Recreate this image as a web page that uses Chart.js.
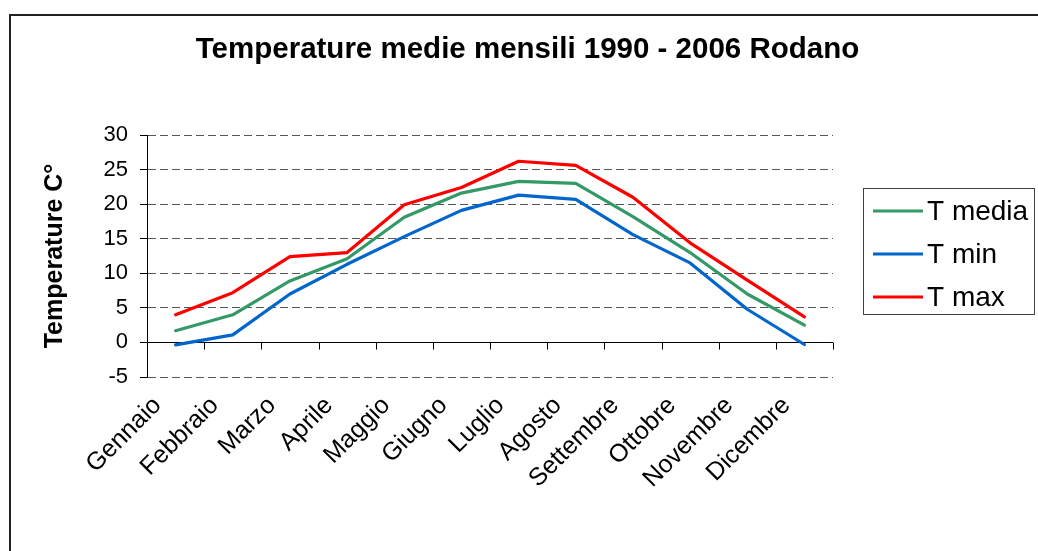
<!DOCTYPE html>
<html><head><meta charset="utf-8">
<script src="https://cdn.jsdelivr.net/npm/chart.js@4/dist/chart.umd.min.js"></script>
<style>
html,body{margin:0;padding:0;background:#fff;overflow:hidden;width:1038px;height:551px}
#frame{position:absolute;left:9px;top:14px;width:1100px;height:600px;border-left:2px solid #222;border-top:2px solid #222}
canvas{position:absolute;left:0;top:0}
</style></head><body>
<div id="frame"></div>
<canvas id="c" width="1038" height="551"></canvas>
<script>
const months = ["Gennaio","Febbraio","Marzo","Aprile","Maggio","Giugno","Luglio","Agosto","Settembre","Ottobre","Novembre","Dicembre"];
const tMedia = [1.7, 4.0, 8.9, 12.1, 18.1, 21.6, 23.3, 23.0, 18.2, 13.0, 7.0, 2.5];
const tMin   = [-0.35, 1.1, 7.0, 11.3, 15.3, 19.1, 21.3, 20.7, 15.6, 11.5, 4.8, -0.3];
const tMax   = [4.0, 7.2, 12.4, 13.0, 19.9, 22.4, 26.2, 25.6, 21.0, 14.4, 9.0, 3.7];
const yTickValues = [-5, 0, 5, 10, 15, 20, 25, 30];
const titleText = "Temperature medie mensili 1990 - 2006 Rodano";
const yTitleText = "Temperature C°";

const FONT = "'Liberation Sans', Arial, sans-serif";

const axisPlugin = {
  id: 'zeroAxis',
  beforeDatasetsDraw(chart) {
    const {ctx, scales: {x, y}, chartArea} = chart;
    const y0 = Math.round(y.getPixelForValue(0)) + 0.5;
    ctx.save();
    ctx.strokeStyle = '#000';
    ctx.lineWidth = 1;
    ctx.beginPath();
    ctx.moveTo(chartArea.left, y0);
    ctx.lineTo(chartArea.right, y0);
    const n = months.length;
    for (let i = 0; i <= n; i++) {
      let px;
      if (i === 0) px = chartArea.left;
      else if (i === n) px = chartArea.right;
      else px = (x.getPixelForValue(i - 1) + x.getPixelForValue(i)) / 2;
      px = Math.round(px) + 0.5;
      ctx.moveTo(px, y0);
      ctx.lineTo(px, y0 + 7);
    }
    ctx.stroke();
    ctx.restore();
  }
};

const legendPlugin = {
  id: 'boxLegend',
  afterDraw(chart) {
    const {ctx} = chart;
    ctx.save();
    ctx.strokeStyle = '#404040';
    ctx.lineWidth = 1;
    ctx.strokeRect(863.5, 188.5, 171, 126);
    ctx.font = '28px ' + FONT;
    ctx.textBaseline = 'middle';
    ctx.fillStyle = '#000';
    chart.data.datasets.forEach((ds, i) => {
      const cy = 211 + i * 43;
      ctx.strokeStyle = ds.borderColor;
      ctx.lineWidth = 3;
      ctx.beginPath();
      ctx.moveTo(873, cy);
      ctx.lineTo(923, cy);
      ctx.stroke();
      ctx.fillText(ds.label, 927, cy + 1);
    });
    ctx.restore();
  }
};

new Chart(document.getElementById('c'), {
  type: 'line',
  data: {
    labels: months,
    datasets: [
      {label: 'T media', data: tMedia, borderColor: '#339966', backgroundColor: '#339966'},
      {label: 'T min', data: tMin, borderColor: '#0066CC', backgroundColor: '#0066CC'},
      {label: 'T max', data: tMax, borderColor: '#FF0000', backgroundColor: '#FF0000'}
    ]
  },
  options: {
    responsive: false,
    devicePixelRatio: 1,
    animation: false,
    events: [],
    layout: {padding: {left: 17, right: 0, top: 0, bottom: 0}},
    elements: {
      line: {borderWidth: 3.2, tension: 0, borderCapStyle: 'round', borderJoinStyle: 'round'},
      point: {radius: 0}
    },
    plugins: {
      legend: {display: false},
      tooltip: {enabled: false},
      title: {
        display: true,
        text: titleText,
        color: '#000',
        font: {family: FONT, size: 29.5, weight: 'bold'},
        padding: {top: 32.3, bottom: 67.3}
      }
    },
    scales: {
      x: {
        type: 'category',
        offset: true,
        grid: {display: false, drawOnChartArea: false, drawTicks: false},
        border: {display: false},
        afterFit: s => { s.height = 174; },
        ticks: {
          autoSkip: false,
          minRotation: 45,
          maxRotation: 45,
          padding: 14,
          labelOffset: -18,
          color: '#000',
          font: {family: FONT, size: 25}
        }
      },
      y: {
        position: 'left',
        min: yTickValues[0],
        max: yTickValues[yTickValues.length - 1],
        afterBuildTicks: s => { s.ticks = yTickValues.map(v => ({value: v})); },
        afterFit: s => { s.width = 130; },
        grid: {
          color: '#555',
          lineWidth: 1,
          drawTicks: true,
          tickLength: 7,
          tickColor: '#000',
          tickBorderDash: []
        },
        border: {display: true, color: '#000', width: 1, dash: [8, 4]},
        ticks: {
          padding: 12,
          color: '#000',
          font: {family: FONT, size: 22}
        },
        title: {
          display: true,
          text: yTitleText,
          color: '#000',
          font: {family: FONT, size: 25, weight: 'bold'},
          padding: {top: 23, bottom: 0}
        }
      },
      yRight: {
        type: 'linear',
        position: 'right',
        display: true,
        grid: {display: false, drawOnChartArea: false, drawTicks: false},
        border: {display: false},
        ticks: {display: false},
        afterFit: s => { s.width = 205; }
      }
    }
  },
  plugins: [axisPlugin, legendPlugin]
});
</script>
</body></html>
